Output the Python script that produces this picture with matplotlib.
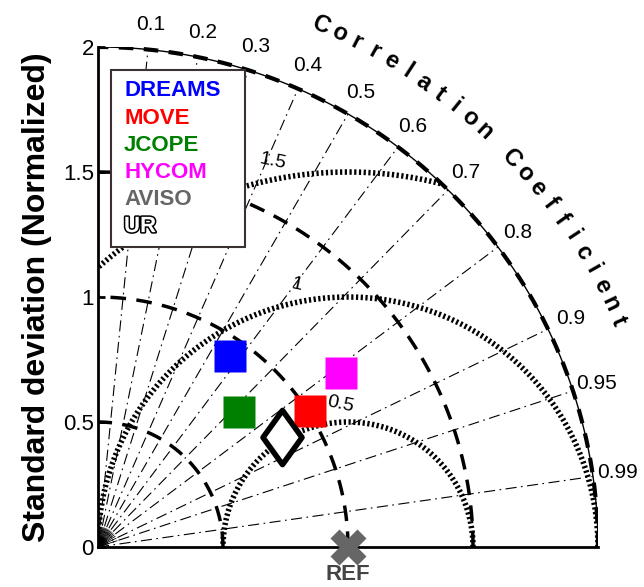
import numpy as np
import matplotlib
matplotlib.use("Agg")
import matplotlib.pyplot as plt
import matplotlib.patheffects as pe
from matplotlib.path import Path
from matplotlib.patches import Rectangle

plt.rcParams['font.family'] = ['Liberation Sans', 'DejaVu Sans']

# model statistics, normalized by the observed std
models = ["DREAMS", "MOVE", "JCOPE", "HYCOM", "AVISO", "UR"]
std_norm = [0.929, 1.008, 0.781, 1.196, 1.0, 0.856]
corr = [0.568, 0.842, 0.722, 0.813, 1.0, 0.858]
colors = ["#0000ff", "#ff0000", "#008000", "#ff00ff", "#666666", "white"]

corr_ticks = [0.1, 0.2, 0.3, 0.4, 0.5, 0.6, 0.7, 0.8, 0.9, 0.95, 0.99]
std_arcs = [0.5, 1.0, 1.5]
rms_arcs = [0.5, 1.0, 1.5]
rmax = 2.0

fig = plt.figure(figsize=(6.44, 5.87), dpi=100)
ax = fig.add_axes([98/644, 40/587, 500/644, 500/587])
ax.set_xlim(0, rmax)
ax.set_ylim(0, rmax)

t = np.linspace(0, np.pi/2, 400)

# correlation rays
for c in corr_ticks:
    a = np.arccos(c)
    ax.plot([0, rmax*np.cos(a)], [0, rmax*np.sin(a)], color='k', lw=0.8,
            ls=(0, (10, 4, 1.5, 4)), zorder=1)
    ax.text(2.1*np.cos(a), 2.1*np.sin(a), f"{c:g}", ha='center', va='center',
            fontsize=15, clip_on=False)
# fine fan near the origin
for c in np.arange(0.0, 1.0, 0.05):
    a = np.arccos(c)
    ax.plot([0, 0.08*np.cos(a)], [0, 0.08*np.sin(a)], color='k', lw=0.6, zorder=1)

# std arcs
for r in std_arcs:
    ax.plot(r*np.cos(t), r*np.sin(t), color='k', lw=2.5, ls=(0, (4.5, 3)), zorder=2)
ax.plot(rmax*np.cos(t), rmax*np.sin(t), color='k', lw=1.0, zorder=2)
ax.plot(rmax*np.cos(t), rmax*np.sin(t), color='k', lw=3.0, ls=(0, (3.5, 2.5)), zorder=2)

# centered RMS difference arcs around the reference point
tt = np.linspace(0, np.pi, 600)
for r, ang in zip(rms_arcs, [93, 101, 101]):
    x = 1 + r*np.cos(tt)
    y = r*np.sin(tt)
    keep = (x >= 0) & (x**2 + y**2 <= rmax**2 + 1e-9)
    x = np.where(keep, x, np.nan)
    y = np.where(keep, y, np.nan)
    ax.plot(x, y, color='k', lw=4, ls=(0, (0.4, 0.45)), dash_capstyle='butt', zorder=2)
    a = np.deg2rad(ang)
    ax.text(1 + (r + 0.07)*np.cos(a), (r + 0.07)*np.sin(a), f"{r:g}",
            ha='center', va='center', fontsize=14, rotation=-12)

# curved axis title
title = "Correlation Coefficient"
for i, ch in enumerate(title):
    a = np.deg2rad(66.8 - 1.97*i)
    ax.text(2.27*np.cos(a), 2.27*np.sin(a), ch, ha='center', va='center',
            rotation=np.rad2deg(a) - 90, fontsize=17, fontweight='bold',
            clip_on=False)

# model markers
diamond = Path([(0, 1), (0.72, 0), (0, -1), (-0.72, 0), (0, 1)],
               [Path.MOVETO, Path.LINETO, Path.LINETO, Path.LINETO, Path.CLOSEPOLY])
for name, s, c, col in zip(models, std_norm, corr, colors):
    a = np.arccos(c)
    x, y = s*np.cos(a), s*np.sin(a)
    if name == "AVISO":
        ax.plot(x, y, marker='X', ms=26, color=col, mec='none', clip_on=False, zorder=5)
    elif name == "UR":
        ax.plot(x, y, marker=diamond, ms=39, mfc='white', mec='black', mew=4, zorder=5)
    else:
        ax.plot(x, y, marker='s', ms=23, color=col, mec='none', zorder=5)

ax.text(1.0, -0.108, "REF", ha='center', va='center', fontsize=16,
        fontweight='bold', color='#444444', clip_on=False, zorder=4)

# legend box
ax.add_patch(Rectangle((0.052, 1.2), 0.536, 0.708, facecolor='white',
                       edgecolor='#3b3131', lw=1.5, zorder=6))
for i, (name, col) in enumerate(zip(models, colors)):
    txt = ax.text(0.104, 1.824 - 0.1085*i, name, ha='left', va='center',
                  fontsize=16, fontweight='bold', color=col, zorder=7)
    if name == "UR":
        txt.set_path_effects([pe.withStroke(linewidth=2.2, foreground='black')])

# axes
for side in ['top', 'right']:
    ax.spines[side].set_visible(False)
for side in ['left', 'bottom']:
    ax.spines[side].set_linewidth(2)
ax.set_xticks([])
ax.set_yticks([0, 0.5, 1, 1.5, 2])
ax.set_yticklabels(['0', '0.5', '1', '1.5', '2'])
ax.tick_params(axis='y', direction='in', length=5, width=2, labelsize=16, pad=3)
ax.set_ylabel("Standard deviation (Normalized)", fontsize=23, fontweight='bold',
              labelpad=8)

fig.savefig("out.png", dpi=100)
